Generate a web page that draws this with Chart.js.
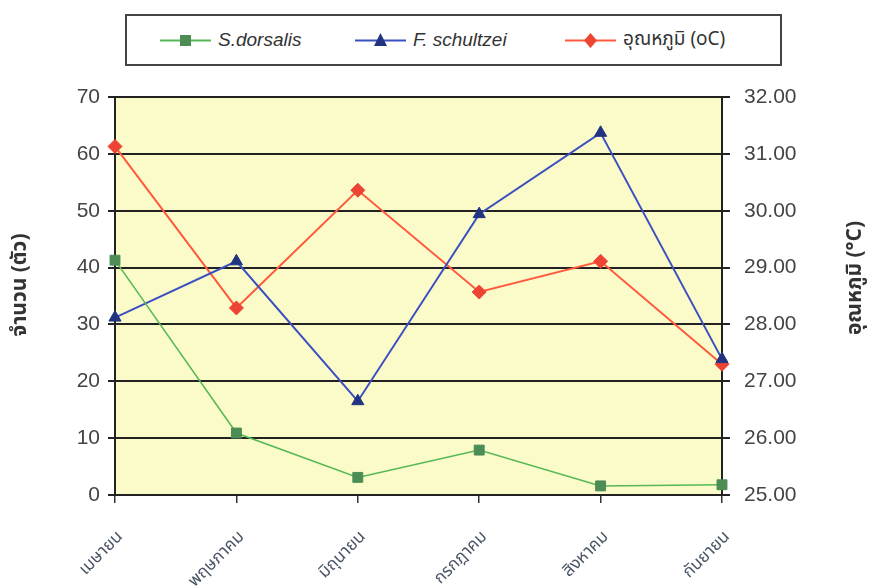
<!DOCTYPE html>
<html>
<head>
<meta charset="utf-8">
<script src="https://cdn.jsdelivr.net/npm/chart.js@4"></script>
<style>
  body { margin: 0; background: #fff; }
  #wrap { position: relative; width: 877px; height: 588px; }
  #legendBox {
    position: absolute; left: 125px; top: 14px; width: 653px; height: 48px;
    border: 2px solid #444; background: #fff;
    font-family: "Liberation Sans", Arial, sans-serif; font-size: 19px; color: #333;
  }
  .item { position: absolute; top: 12px; height: 24px; white-space: nowrap; }
  .item svg { position: absolute; left: 0; top: 2px; }
  .item span { position: absolute; left: 58px; top: 0; line-height: 24px; }
</style>
</head>
<body>
<div id="wrap">
  <canvas id="myChart" width="877" height="588"></canvas>
  <div id="legendBox"></div>
</div>
<script>
const months = ["เมษายน", "พฤษภาคม", "มิถุนายน", "กรกฎาคม", "สิงหาคม", "กันยายน"];
const sDorsalis = [41.3, 10.9, 3.1, 7.9, 1.6, 1.8];
const fSchultzei = [31.2, 41.1, 16.5, 49.4, 63.7, 23.9];
const temperature = [31.13, 28.29, 30.36, 28.57, 29.11, 27.30];
const seriesNames = ["S.dorsalis", "F. schultzei", "อุณหภูมิ (oC)"];
const leftTitle = "จำนวน (ตัว)";
const rightTitle = "อุณหภูมิ (°C)";

const thaiFont = '"Noto Sans Thai", "Noto Sans", "DejaVu Sans", sans-serif';
const latinFont = '"Liberation Sans", Arial, sans-serif';

const lineColors = ["#55b855", "#3b50c0", "#ff5a3c"];
const markColors = ["#4c8c55", "#223380", "#ee4433"];
const markStyles = ["rect", "triangle", "rectRot"];

// legend (html, top box)
const legendBox = document.getElementById("legendBox");
const itemX = [33, 228, 438];
seriesNames.forEach(function (name, i) {
  let marker;
  if (i == 0) marker = '<rect x="20" y="5" width="11" height="11" fill="' + markColors[0] + '"/>';
  else if (i == 1) marker = '<polygon points="25.5,3 32,16 19,16" fill="' + markColors[1] + '"/>';
  else marker = '<polygon points="25.5,3 32,10.5 25.5,18 19,10.5" fill="' + markColors[2] + '"/>';
  const div = document.createElement("div");
  div.className = "item";
  div.style.left = itemX[i] + "px";
  div.innerHTML = '<svg width="52" height="21"><line x1="0" y1="10.5" x2="51" y2="10.5" stroke="' +
    lineColors[i] + '" stroke-width="2"/>' + marker + '</svg>' +
    '<span style="' + (i < 2 ? 'font-style:italic;' : 'font-family:' + thaiFont.replace(/"/g, "'") + ';') + '">' + name + '</span>';
  legendBox.appendChild(div);
});

const plotBg = {
  id: "plotBg",
  beforeDraw(chart) {
    const a = chart.chartArea, ctx = chart.ctx;
    ctx.save();
    ctx.fillStyle = "#fbfbca";
    ctx.fillRect(a.left, a.top, a.right - a.left, a.bottom - a.top);
    ctx.restore();
  }
};

const textBits = {
  id: "textBits",
  afterDraw(chart) {
    const ctx = chart.ctx, x = chart.scales.x, a = chart.chartArea;
    ctx.save();
    // month labels, rotated
    ctx.fillStyle = "#4a5668";
    ctx.font = "17px " + thaiFont;
    ctx.textAlign = "right";
    ctx.textBaseline = "middle";
    months.forEach(function (m, i) {
      const px = x.getPixelForTick(i);
      ctx.save();
      ctx.translate(px + 6, a.bottom + 40);
      ctx.rotate(-Math.PI / 4);
      ctx.fillText(m, 0, 0);
      ctx.restore();
    });
    // axis titles
    ctx.fillStyle = "#333";
    ctx.font = "bold 21px " + thaiFont;
    ctx.textAlign = "center";
    ctx.save();
    ctx.translate(22, 285);
    ctx.rotate(-Math.PI / 2);
    ctx.fillText(leftTitle, 0, 0);
    ctx.restore();
    ctx.save();
    ctx.translate(857, 278);
    ctx.rotate(-Math.PI / 2);
    ctx.fillText(rightTitle, 0, 0);
    ctx.restore();
    ctx.restore();
  }
};

function ds(label, data, i, axis) {
  return {
    label: label,
    data: data,
    yAxisID: axis,
    borderColor: lineColors[i],
    borderWidth: i == 0 ? 1.5 : 2,
    backgroundColor: markColors[i],
    pointBackgroundColor: markColors[i],
    pointBorderColor: markColors[i],
    pointStyle: markStyles[i],
    pointRadius: 7,
    pointBorderWidth: 1,
    tension: 0
  };
}

new Chart("myChart", {
  type: "line",
  data: {
    labels: months,
    datasets: [
      ds(seriesNames[0], sDorsalis, 0, "y"),
      ds(seriesNames[1], fSchultzei, 1, "y"),
      ds(seriesNames[2], temperature, 2, "y1")
    ]
  },
  plugins: [plotBg, textBits],
  options: {
    responsive: false,
    animation: false,
    layout: { padding: { top: 97, left: 0, right: 0, bottom: 0 } },
    plugins: { legend: { display: false }, tooltip: { enabled: false } },
    scales: {
      x: {
        offset: false,
        grid: { display: true, drawOnChartArea: false, drawTicks: true, tickLength: 8, color: "#333", lineWidth: 1.5 },
        border: { color: "#222", width: 2 },
        ticks: { color: "rgba(0,0,0,0)", maxRotation: 0, minRotation: 0 },
        afterFit(scale) { scale.height = 93; }
      },
      y: {
        position: "left",
        min: 0, max: 70,
        grid: { color: "#222", lineWidth: 2, tickLength: 7 },
        border: { color: "#222", width: 2 },
        ticks: { stepSize: 10, color: "#444", padding: 8, font: { family: latinFont, size: 21 } },
        afterFit(scale) { scale.width = 115; }
      },
      y1: {
        position: "right",
        min: 25, max: 32,
        grid: { drawOnChartArea: false, color: "#222", lineWidth: 2, tickLength: 8 },
        border: { color: "#222", width: 2 },
        ticks: {
          stepSize: 1, color: "#444", padding: 14, font: { family: latinFont, size: 21 },
          callback: function (v) { return v.toFixed(2); }
        },
        afterFit(scale) { scale.width = 155; }
      }
    }
  }
});
</script>
</body>
</html>
